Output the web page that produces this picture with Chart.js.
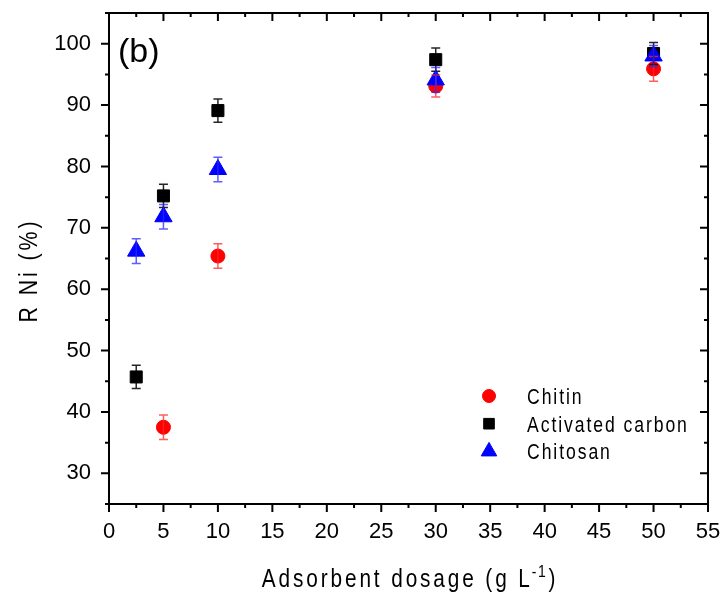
<!DOCTYPE html>
<html>
<head>
<meta charset="utf-8">
<script src="https://cdn.jsdelivr.net/npm/chart.js@4.4.1/dist/chart.umd.min.js"></script>
<style>
  html, body { margin: 0; padding: 0; background: #fff; }
  #wrap { width: 726px; height: 600px; }
</style>
</head>
<body>
<div id="wrap"><canvas id="dosageChart" width="726" height="600"></canvas></div>
<script>
// Ni removal (%) against adsorbent dosage for three adsorbents
const chitinDose = [5, 10, 30, 50];
const chitinRemoval = [37.5, 65.4, 93.1, 95.9];
const chitinError = [2.0, 2.0, 1.8, 2.0];

const carbonDose = [2.5, 5, 10, 30, 50];
const carbonRemoval = [45.7, 75.2, 89.1, 97.4, 98.4];
const carbonError = [1.9, 1.9, 1.9, 1.9, 1.8];

const chitosanDose = [2.5, 5, 10, 30, 50];
const chitosanRemoval = [66.2, 71.8, 79.5, 94.1, 98.0];
const chitosanError = [2.0, 2.0, 2.0, 2.0, 1.7];

const xTicks = [0, 5, 10, 15, 20, 25, 30, 35, 40, 45, 50, 55];
const yTicks = [30, 40, 50, 60, 70, 80, 90, 100];

const FONT = "'Liberation Sans', Arial, sans-serif";

const toPoints = (xs, ys) => xs.map((x, i) => ({ x: x, y: ys[i] }));

// squeezed, letter-spaced text (narrow look); returns drawn width
function spacedText(ctx, text, x, y, size, squeeze, spacing, align) {
  ctx.save();
  ctx.font = size + 'px ' + FONT;
  ctx.letterSpacing = spacing + 'px';
  const w = (ctx.measureText(text).width - spacing) * squeeze;
  let x0 = x;
  if (align === 'center') x0 = x - w / 2;
  ctx.translate(x0, y);
  ctx.scale(squeeze, 1);
  ctx.textAlign = 'left';
  ctx.fillText(text, 0, 0);
  ctx.restore();
  return w + spacing * squeeze;
}

function spacedWidth(ctx, text, size, squeeze, spacing) {
  ctx.save();
  ctx.font = size + 'px ' + FONT;
  ctx.letterSpacing = spacing + 'px';
  const w = ctx.measureText(text).width * squeeze;
  ctx.restore();
  return w;
}

// error bars, drawn over all markers
const errorBars = {
  id: 'errorBars',
  afterDatasetsDraw(chart) {
    const ctx = chart.ctx;
    const xs = chart.scales.x, ys = chart.scales.y;
    chart.data.datasets.forEach(ds => {
      ctx.save();
      ctx.strokeStyle = ds.errorColor;
      ctx.lineWidth = 1.5;
      ds.data.forEach((p, j) => {
        const px = xs.getPixelForValue(p.x);
        const top = ys.getPixelForValue(p.y + ds.errors[j]);
        const bot = ys.getPixelForValue(p.y - ds.errors[j]);
        ctx.beginPath();
        ctx.moveTo(px, top); ctx.lineTo(px, bot);
        ctx.moveTo(px - 4.5, top); ctx.lineTo(px + 4.5, top);
        ctx.moveTo(px - 4.5, bot); ctx.lineTo(px + 4.5, bot);
        ctx.stroke();
      });
      ctx.restore();
    });
  }
};

// closed frame with major/minor ticks: outward on left/bottom, inward on top/right
const frame = {
  id: 'frame',
  afterDraw(chart) {
    const ctx = chart.ctx;
    const a = chart.chartArea;
    const xs = chart.scales.x, ys = chart.scales.y;
    ctx.save();
    ctx.strokeStyle = '#000';
    ctx.lineWidth = 2;
    ctx.strokeRect(a.left, a.top, a.right - a.left, a.bottom - a.top);
    ctx.beginPath();
    for (let v = xs.min; v <= xs.max + 1e-9; v += 2.5) {
      const px = xs.getPixelForValue(v);
      const len = v % 5 === 0 ? 8 : 4;
      ctx.moveTo(px, a.bottom); ctx.lineTo(px, a.bottom + len);
      ctx.moveTo(px, a.top); ctx.lineTo(px, a.top + len);
    }
    for (let v = ys.min; v <= ys.max + 1e-9; v += 5) {
      const py = ys.getPixelForValue(v);
      const len = v % 10 === 0 ? 8 : 4;
      ctx.moveTo(a.left, py); ctx.lineTo(a.left - len, py);
      ctx.moveTo(a.right, py); ctx.lineTo(a.right - len, py);
    }
    ctx.stroke();
    ctx.restore();
  }
};

// axis titles, panel letter and legend
const annotations = {
  id: 'annotations',
  afterDraw(chart) {
    const ctx = chart.ctx;
    const a = chart.chartArea;
    ctx.save();
    ctx.fillStyle = '#000';
    ctx.textBaseline = 'alphabetic';

    // panel letter
    ctx.font = '34px ' + FONT;
    ctx.textAlign = 'left';
    ctx.fillText('(b)', a.left + 9, 62);

    // y title
    ctx.save();
    ctx.translate(37, 272);
    ctx.rotate(-Math.PI / 2);
    spacedText(ctx, 'R Ni (%)', 0, 0, 26, 0.82, 3.6, 'center');
    ctx.restore();

    // x title with superscript
    const main = 'Adsorbent dosage (g L';
    const wMain = spacedWidth(ctx, main, 26, 0.8, 3.6);
    const wSup = spacedWidth(ctx, '-1', 17, 0.82, 2);
    const wTail = spacedWidth(ctx, ')', 26, 0.8, 3.6);
    const x0 = 410 - (wMain + wSup + wTail) / 2;
    const base = 587;
    spacedText(ctx, main, x0, base, 26, 0.8, 3.6, 'left');
    spacedText(ctx, '-1', x0 + wMain - 1, base - 10, 17, 0.82, 2, 'left');
    spacedText(ctx, ')', x0 + wMain + wSup, base, 26, 0.8, 3.6, 'left');

    // legend
    chart.data.datasets.forEach((ds, i) => {
      const cy = 396 + i * 27.7;
      ctx.save();
      ctx.fillStyle = ds.backgroundColor;
      ctx.strokeStyle = ds.borderColor;
      ctx.lineWidth = 1;
      Chart.helpers.drawPoint(ctx, {
        pointStyle: ds.pointStyle,
        radius: ds.legendRadius,
        borderWidth: 1,
        rotation: 0
      }, 489, cy);
      ctx.restore();
      spacedText(ctx, ds.label, 527, cy + 8, 22, 0.8, 2.4, 'left');
    });
    ctx.restore();
  }
};

new Chart(document.getElementById('dosageChart'), {
  type: 'scatter',
  data: {
    datasets: [
      {
        label: 'Chitin',
        data: toPoints(chitinDose, chitinRemoval),
        errors: chitinError,
        errorColor: 'rgba(255, 40, 40, 0.75)',
        pointStyle: 'circle',
        pointRadius: 7,
        legendRadius: 6.5,
        backgroundColor: '#ff0000',
        borderColor: '#ff0000',
        borderWidth: 1,
        order: 3
      },
      {
        label: 'Activated carbon',
        data: toPoints(carbonDose, carbonRemoval),
        errors: carbonError,
        errorColor: 'rgba(0, 0, 0, 0.85)',
        pointStyle: 'rect',
        pointRadius: 8.5,
        legendRadius: 7.5,
        backgroundColor: '#000000',
        borderColor: '#000000',
        borderWidth: 1,
        order: 2
      },
      {
        label: 'Chitosan',
        data: toPoints(chitosanDose, chitosanRemoval),
        errors: chitosanError,
        errorColor: 'rgba(40, 40, 255, 0.75)',
        pointStyle: 'triangle',
        pointRadius: 10,
        legendRadius: 9,
        backgroundColor: '#0000ff',
        borderColor: '#0000ff',
        borderWidth: 1,
        order: 1
      }
    ]
  },
  options: {
    responsive: false,
    animation: false,
    devicePixelRatio: 1,
    layout: { padding: { top: 13, right: 18, left: 0, bottom: 0 } },
    plugins: {
      legend: { display: false },
      tooltip: { enabled: false }
    },
    scales: {
      x: {
        type: 'linear',
        min: 0,
        max: 55,
        afterBuildTicks: s => { s.ticks = xTicks.map(v => ({ value: v })); },
        afterFit: s => { s.height = 96; s.paddingLeft = 0; s.paddingRight = 0; },
        grid: { display: false, drawTicks: false, tickLength: 0 },
        border: { display: true, color: '#000', width: 2 },
        ticks: {
          color: '#000',
          padding: 15,
          maxRotation: 0,
          autoSkip: false,
          font: { family: FONT, size: 22 }
        }
      },
      y: {
        type: 'linear',
        min: 25,
        max: 105,
        afterBuildTicks: s => { s.ticks = yTicks.map(v => ({ value: v })); },
        afterFit: s => { s.width = 109; s.paddingTop = 0; s.paddingBottom = 0; },
        grid: { display: false, drawTicks: false, tickLength: 0 },
        border: { display: true, color: '#000', width: 2 },
        ticks: {
          color: '#000',
          padding: 18,
          autoSkip: false,
          font: { family: FONT, size: 22 }
        }
      }
    }
  },
  plugins: [frame, errorBars, annotations]
});
</script>
</body>
</html>
